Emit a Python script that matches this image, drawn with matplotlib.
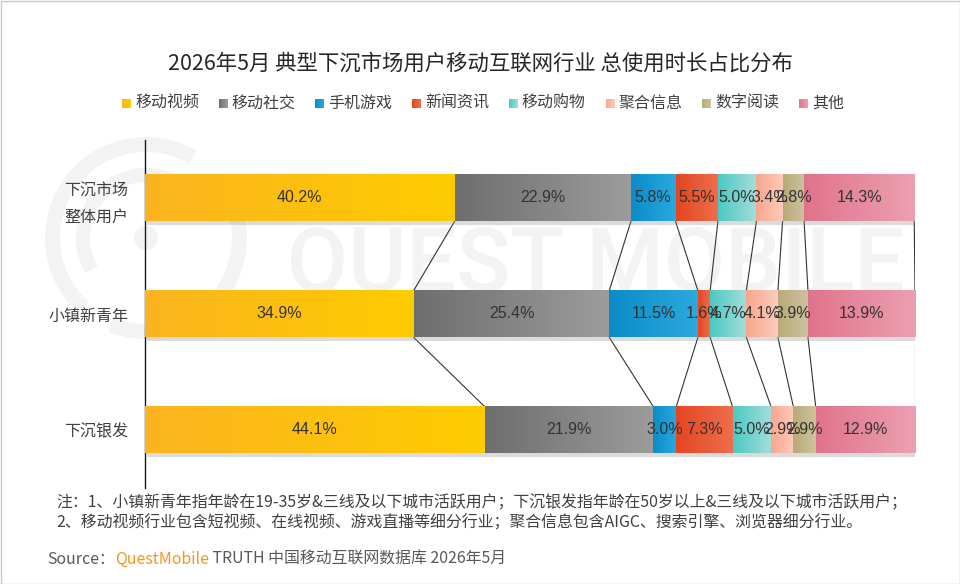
import matplotlib
matplotlib.use('Agg')
import matplotlib.pyplot as plt
import numpy as np
from matplotlib.patches import Rectangle, Wedge, Circle
import matplotlib.patheffects as pe
from matplotlib.colors import LinearSegmentedColormap

plt.rcParams['font.family'] = ['Noto Sans CJK SC', 'DejaVu Sans']

title = '2026年5月 典型下沉市场用户移动互联网行业 总使用时长占比分布'
categories = ['移动视频', '移动社交', '手机游戏', '新闻资讯', '移动购物', '聚合信息', '数字阅读', '其他']
groups = ['下沉市场\n整体用户', '小镇新青年', '下沉银发']
overall = [40.2, 22.9, 5.8, 5.5, 5.0, 3.4, 2.8, 14.3]
youth = [34.9, 25.4, 11.5, 1.6, 4.7, 4.1, 3.9, 13.9]
silver = [44.1, 21.9, 3.0, 7.3, 5.0, 2.9, 2.9, 12.9]
grad_left = ['#FBB420', '#6E6E6E', '#0A8CC8', '#E44620', '#4CC8C2', '#F9A68E', '#B9AA78', '#E0738C']
grad_right = ['#FFCC00', '#9C9C9C', '#2CA9DE', '#EE6E4E', '#A4DEDB', '#FDCBBB', '#CCC29E', '#ECA0B1']
note1 = '注：1、小镇新青年指年龄在19-35岁&三线及以下城市活跃用户；下沉银发指年龄在50岁以上&三线及以下城市活跃用户；'
note2 = '2、移动视频行业包含短视频、在线视频、游戏直播等细分行业；聚合信息包含AIGC、搜索引擎、浏览器细分行业。'
source_parts = ['Source：', 'QuestMobile', ' TRUTH 中国移动互联网数据库 2026年5月']
source_colors = ['#595959', '#F7941D', '#595959']

W, H = 960, 584
fig = plt.figure(figsize=(W / 100, H / 100), dpi=100)

# background axes in pixel coordinates
bg = fig.add_axes([0, 0, 1, 1], zorder=0)
bg.set_xlim(0, W)
bg.set_ylim(H, 0)
bg.axis('off')
wm = '#F3F3F3'
bg.add_patch(Wedge((146, 238), 101, -40, 112, width=15, color=wm, lw=0))
bg.add_patch(Wedge((146, 238), 101, 132, 300, width=15, color=wm, lw=0))
bg.add_patch(Wedge((146, 238), 70, 150, 330, width=14, color=wm, lw=0))
bg.add_patch(Circle((146, 238), 12, color=wm, lw=0))
wt = bg.text(287, 266, 'QUEST MOBILE', fontsize=60, family='Roboto', weight='medium',
             color=wm, ha='left', va='center')
r = fig.canvas.get_renderer()
ext = wt.get_window_extent(r)
wt.set_fontsize(60 * 618 / ext.width)
bg.add_patch(Rectangle((0.5, 0.5), W - 1, H - 1, fill=False, ec='#C8C8C8', lw=1))

# main axes
ax = fig.add_axes([145 / W, 1 - 488 / H, (915 - 145) / W, 348 / H], zorder=1)
ax.patch.set_alpha(0)
data = np.array([overall, youth, silver])
cum = np.cumsum(data, axis=1)
lefts = cum - data
bar_h = 0.405
ypos = np.arange(len(groups))
grad = np.linspace(0, 1, 256).reshape(1, -1)
for j, cat in enumerate(categories):
    bars = ax.barh(ypos, data[:, j], left=lefts[:, j], height=bar_h, color=grad_left[j],
                   linewidth=0, zorder=2,
                   path_effects=[pe.SimplePatchShadow(offset=(1.5, -2.5), shadow_rgbFace='#8a8a8a', alpha=0.3),
                                 pe.Normal()])
    cmap = LinearSegmentedColormap.from_list(cat, [grad_left[j], grad_right[j]])
    for b, v in zip(bars, data[:, j]):
        x0, y0, w, h = b.get_x(), b.get_y(), b.get_width(), b.get_height()
        ax.imshow(grad, cmap=cmap, aspect='auto', extent=(x0, x0 + w, y0 + h, y0),
                  zorder=3, interpolation='bilinear')
        ax.text(x0 + w / 2, y0 + h / 2, f'{v:.1f}%', ha='center', va='center', fontsize=11.5,
                color='#333333', family=['Liberation Sans', 'DejaVu Sans'], zorder=4)

for rr in range(len(groups) - 1):
    for j in range(len(categories)):
        ax.plot([cum[rr, j], cum[rr + 1, j]], [rr + bar_h / 2, rr + 1 - bar_h / 2],
                color='#333333', lw=0.8, zorder=1.5)

ax.set_xlim(0, 100)
ax.set_ylim(2.5, -0.5)
ax.set_xticks([])
ax.set_yticks(ypos)
ax.set_yticklabels(groups, fontsize=11.5, color='#404040', linespacing=1.7)
ax.tick_params(axis='y', length=0, pad=12)
for s in ['top', 'right', 'bottom']:
    ax.spines[s].set_visible(False)
ax.spines['left'].set_color('#1a1a1a')
ax.spines['left'].set_linewidth(1.0)

# title
fig.text(480.5 / W, 1 - 64 / H, title, fontsize=15.4, color='#262626', ha='center', va='center')

# legend
for j, cat in enumerate(categories):
    sx = 122 + j * 96.7
    cmap = LinearSegmentedColormap.from_list(cat + 'l', [grad_left[j], grad_right[j]])
    bg.imshow(grad, cmap=cmap, aspect='auto', extent=(sx, sx + 9, 108, 99), zorder=2)
    bg.text(sx + 13, 103.5, cat, fontsize=11.5, color='#404040', ha='left', va='center')
bg.set_xlim(0, W)
bg.set_ylim(H, 0)

# notes
fig.text(56 / W, 1 - 503 / H, note1, fontsize=11.45, color='#404040', ha='left', va='center')
fig.text(56 / W, 1 - 523 / H, note2, fontsize=11.45, color='#404040', ha='left', va='center')

x = 47
for txt, col in zip(source_parts, source_colors):
    t = bg.text(x, 559, txt, fontsize=11.45, color=col, ha='left', va='center')
    x += t.get_window_extent(r).width

fig.savefig('out.png', dpi=100)
